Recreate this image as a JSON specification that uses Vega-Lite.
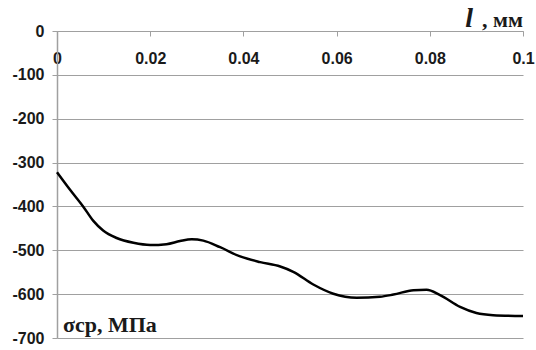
{
  "$schema": "https://vega.github.io/schema/vega-lite/v6.json",
  "width": 466,
  "height": 307,
  "autosize": {"type": "none"},
  "padding": {"left": 57, "top": 31, "right": 13, "bottom": 12},
  "background": "white",
  "config": {"view": {"stroke": null}},
  "layer": [
    {
      "data": {"values": [
        {"l": 0.0, "s": -322},
        {"l": 0.0028, "s": -362},
        {"l": 0.0056, "s": -400},
        {"l": 0.0078, "s": -433},
        {"l": 0.0099, "s": -455},
        {"l": 0.0128, "s": -472},
        {"l": 0.0164, "s": -483},
        {"l": 0.0200, "s": -488},
        {"l": 0.0235, "s": -486},
        {"l": 0.0264, "s": -479},
        {"l": 0.0289, "s": -475},
        {"l": 0.0314, "s": -478},
        {"l": 0.0350, "s": -493},
        {"l": 0.0393, "s": -514},
        {"l": 0.0436, "s": -527},
        {"l": 0.0479, "s": -537},
        {"l": 0.0507, "s": -549},
        {"l": 0.0550, "s": -578},
        {"l": 0.0593, "s": -599},
        {"l": 0.0643, "s": -608},
        {"l": 0.0693, "s": -606},
        {"l": 0.0722, "s": -601},
        {"l": 0.0765, "s": -591},
        {"l": 0.0793, "s": -590},
        {"l": 0.0822, "s": -602},
        {"l": 0.0865, "s": -629},
        {"l": 0.0900, "s": -643},
        {"l": 0.0936, "s": -648},
        {"l": 0.1000, "s": -650}
      ]},
      "mark": {"type": "line", "color": "black", "strokeWidth": 2.5, "interpolate": "monotone"},
      "encoding": {
        "x": {
          "field": "l", "type": "quantitative",
          "scale": {"domain": [0, 0.1], "nice": false, "zero": false},
          "axis": {
            "orient": "bottom", "offset": -307, "title": null,
            "values": [0, 0.02, 0.04, 0.06, 0.08, 0.1],
            "labelExpr": "'' + datum.value",
            "grid": false, "domainColor": "#a0a0a0", "domainWidth": 1.2,
            "tickColor": "#a0a0a0", "tickSize": 5, "labelPadding": 14,
            "labelFont": "Liberation Sans", "labelFontWeight": "bold", "labelFontSize": 16,
            "labelColor": "#1a1a1a", "labelFlush": false, "labelOverlap": false
          }
        },
        "y": {
          "field": "s", "type": "quantitative",
          "scale": {"domain": [-700, 0], "nice": false, "zero": false},
          "axis": {
            "title": null,
            "values": [0, -100, -200, -300, -400, -500, -600, -700],
            "labelExpr": "'' + datum.value",
            "grid": true, "gridColor": "#a0a0a0", "gridWidth": 1.2,
            "domainColor": "#a0a0a0", "domainWidth": 1.5,
            "tickColor": "#a0a0a0", "tickSize": 5, "labelPadding": 8,
            "labelFont": "Liberation Sans", "labelFontWeight": "bold", "labelFontSize": 16,
            "labelColor": "#1a1a1a", "labelOverlap": false
          }
        }
      }
    },
    {
      "data": {"values": [{"l": 0.1, "s": 0, "t": ", мм"}]},
      "mark": {"type": "text", "align": "right", "baseline": "alphabetic", "dy": -4, "font": "Liberation Serif", "fontWeight": "bold", "fontSize": 22, "color": "#1a1a1a"},
      "encoding": {
        "x": {"field": "l", "type": "quantitative"},
        "y": {"field": "s", "type": "quantitative"},
        "text": {"field": "t"}
      }
    },
    {
      "data": {"values": [{"l": 0.1, "s": 0, "t": "l"}]},
      "mark": {"type": "text", "align": "right", "baseline": "alphabetic", "dx": -50, "dy": -4, "font": "Liberation Serif", "fontWeight": "bold", "fontStyle": "italic", "fontSize": 28, "color": "#1a1a1a"},
      "encoding": {
        "x": {"field": "l", "type": "quantitative"},
        "y": {"field": "s", "type": "quantitative"},
        "text": {"field": "t"}
      }
    },
    {
      "data": {"values": [{"l": 0, "s": -700, "t": "σcp, МПа"}]},
      "mark": {"type": "text", "align": "left", "baseline": "alphabetic", "dx": 6, "dy": -6, "font": "Liberation Serif", "fontWeight": "bold", "fontSize": 22, "color": "#1a1a1a"},
      "encoding": {
        "x": {"field": "l", "type": "quantitative"},
        "y": {"field": "s", "type": "quantitative"},
        "text": {"field": "t"}
      }
    }
  ]
}
